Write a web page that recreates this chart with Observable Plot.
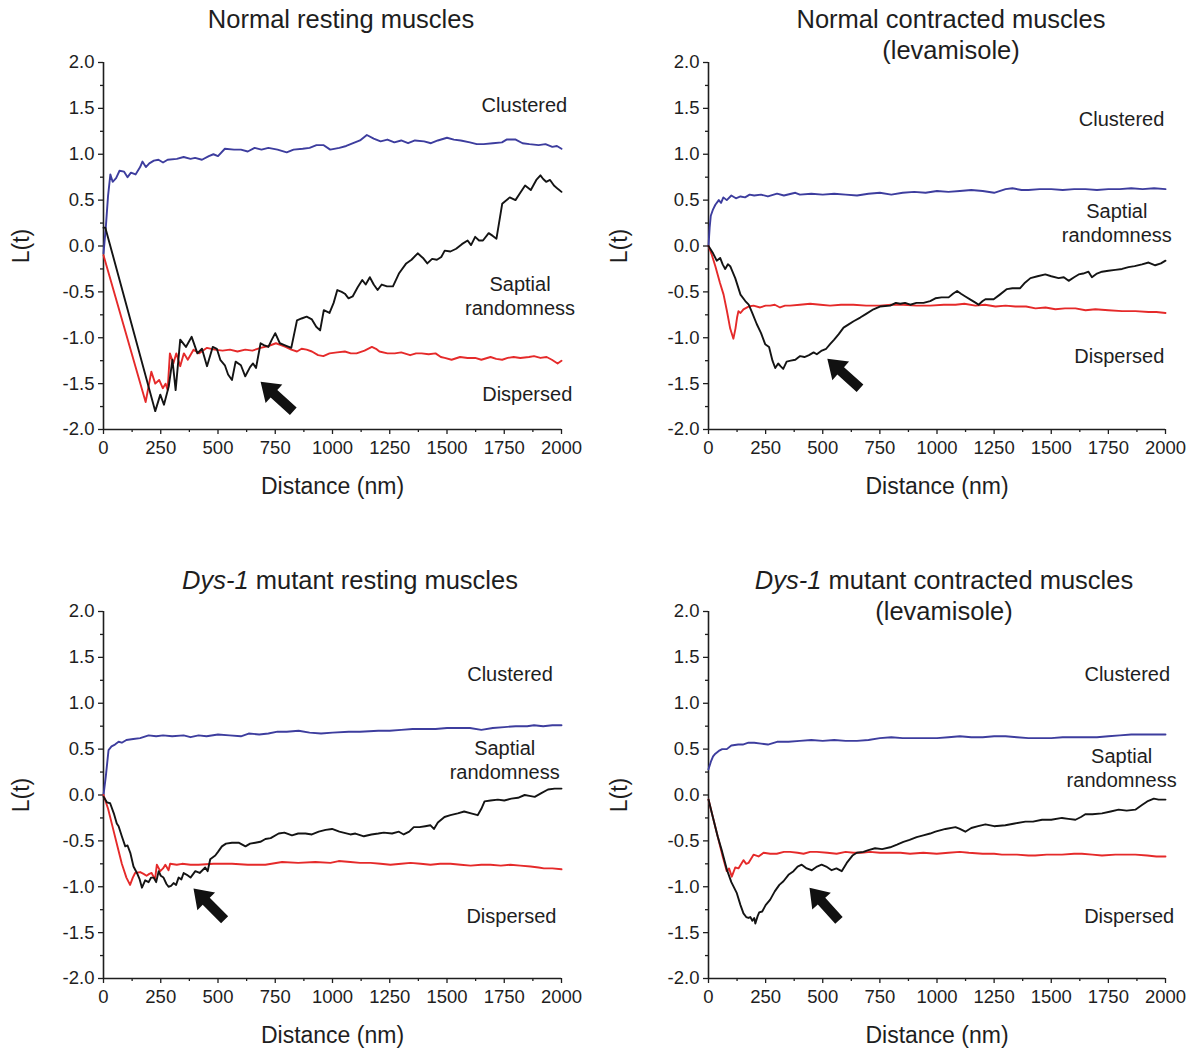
<!DOCTYPE html>
<html><head><meta charset="utf-8">
<script src="https://cdn.jsdelivr.net/npm/d3@7"></script>
<script src="https://cdn.jsdelivr.net/npm/@observablehq/plot@0.6"></script>
<style>
body{margin:0;background:#fff;}
#fig{position:relative;width:1196px;height:1050px;font-family:'Liberation Sans',Arial,sans-serif;color:#1e1e1e;overflow:hidden;}
.cell{position:absolute;}
.title{position:absolute;text-align:center;font-size:25.5px;line-height:31px;white-space:nowrap;transform:translateX(-50%);}
</style></head><body><div id="fig"></div>
<script>
// ---------------- DATA ----------------
const yMajorTicks = [-2, -1.5, -1, -0.5, 0, 0.5, 1, 1.5, 2];
const yMinorTicks = [-1.75, -1.25, -0.75, -0.25, 0.25, 0.75, 1.25, 1.75];
const xMajorTicks = [0, 250, 500, 750, 1000, 1250, 1500, 1750, 2000];
const xMinorTicks = [125, 375, 625, 875, 1125, 1375, 1625, 1875];

const titles = [
  "Normal resting muscles",
  "Normal contracted muscles<br>(levamisole)",
  "<i>Dys-1</i> mutant resting muscles",
  "<i>Dys-1</i> mutant contracted muscles<br>(levamisole)"
];

// Panel 1: Normal resting muscles  [distance nm, L(t)]
const normalRestingClustered = [[0,-0.08],[10,0.2],[20,0.55],[30,0.78],[40,0.7],[55,0.74],[70,0.82],[90,0.81],[105,0.75],[120,0.8],[140,0.78],[160,0.86],[170,0.92],[185,0.86],[200,0.9],[220,0.93],[240,0.94],[260,0.91],[280,0.94],[320,0.95],[350,0.97],[380,0.95],[400,0.96],[430,0.94],[460,0.98],[480,1.0],[500,0.98],[530,1.06],[570,1.05],[600,1.05],[630,1.03],[660,1.07],[690,1.05],[720,1.07],[760,1.05],[800,1.02],[830,1.05],[870,1.06],[900,1.07],[930,1.1],[960,1.1],[990,1.05],[1030,1.07],[1060,1.09],[1090,1.12],[1120,1.15],[1150,1.21],[1180,1.17],[1210,1.14],[1240,1.16],[1270,1.13],[1300,1.15],[1330,1.12],[1360,1.15],[1400,1.14],[1430,1.12],[1460,1.15],[1500,1.18],[1530,1.16],[1560,1.15],[1600,1.13],[1630,1.11],[1660,1.11],[1700,1.12],[1740,1.13],[1760,1.16],[1800,1.16],[1830,1.12],[1860,1.11],[1900,1.1],[1930,1.11],[1960,1.08],[1980,1.09],[2000,1.06]];
const normalRestingDispersed = [[0,-0.1],[184,-1.7],[209,-1.37],[226,-1.5],[243,-1.46],[259,-1.55],[271,-1.5],[280,-1.57],[290,-1.17],[305,-1.28],[318,-1.17],[335,-1.31],[351,-1.17],[368,-1.24],[393,-1.13],[418,-1.17],[452,-1.11],[485,-1.13],[520,-1.14],[552,-1.13],[585,-1.15],[619,-1.13],[650,-1.14],[686,-1.11],[720,-1.09],[753,-1.06],[775,-1.08],[795,-1.1],[820,-1.13],[845,-1.15],[865,-1.12],[887,-1.13],[910,-1.15],[937,-1.19],[960,-1.2],[987,-1.17],[1020,-1.16],[1054,-1.15],[1080,-1.17],[1105,-1.17],[1140,-1.14],[1172,-1.1],[1190,-1.12],[1205,-1.15],[1240,-1.17],[1272,-1.17],[1300,-1.16],[1339,-1.19],[1365,-1.17],[1389,-1.17],[1420,-1.18],[1450,-1.17],[1473,-1.21],[1490,-1.22],[1520,-1.24],[1557,-1.21],[1590,-1.22],[1623,-1.22],[1650,-1.24],[1690,-1.21],[1715,-1.23],[1741,-1.24],[1765,-1.22],[1791,-1.21],[1820,-1.22],[1858,-1.21],[1880,-1.2],[1908,-1.22],[1935,-1.21],[1958,-1.24],[1983,-1.28],[2000,-1.25]];
const normalRestingRandom = [[0,0.2],[8,0.2],[226,-1.8],[248,-1.62],[264,-1.73],[285,-1.53],[301,-1.24],[315,-1.57],[335,-1.02],[360,-1.1],[385,-0.99],[410,-1.17],[430,-1.12],[452,-1.31],[477,-1.1],[495,-1.12],[510,-1.24],[530,-1.3],[544,-1.4],[561,-1.46],[577,-1.26],[600,-1.3],[619,-1.42],[640,-1.32],[653,-1.28],[666,-1.33],[686,-1.06],[700,-1.08],[720,-1.1],[735,-1.02],[750,-0.95],[770,-1.06],[790,-1.08],[820,-1.11],[845,-0.81],[865,-0.79],[887,-0.77],[910,-0.8],[929,-0.88],[946,-0.92],[962,-0.7],[987,-0.73],[1005,-0.62],[1021,-0.48],[1040,-0.5],[1054,-0.52],[1070,-0.57],[1088,-0.55],[1110,-0.45],[1130,-0.37],[1145,-0.42],[1163,-0.34],[1180,-0.42],[1197,-0.48],[1215,-0.42],[1238,-0.44],[1264,-0.44],[1290,-0.3],[1322,-0.19],[1345,-0.15],[1372,-0.08],[1395,-0.13],[1414,-0.19],[1435,-0.14],[1456,-0.15],[1475,-0.12],[1490,-0.05],[1515,-0.06],[1540,-0.03],[1565,0.02],[1590,0.06],[1605,0.01],[1623,0.1],[1640,0.06],[1657,0.06],[1682,0.14],[1700,0.11],[1716,0.08],[1741,0.46],[1774,0.53],[1799,0.5],[1820,0.58],[1841,0.66],[1866,0.61],[1890,0.72],[1908,0.77],[1920,0.73],[1933,0.7],[1950,0.72],[1967,0.66],[1985,0.62],[2000,0.59]];

// Panel 2: Normal contracted muscles (levamisole)
const normalContractedClustered = [[0,0.0],[5,0.2],[10,0.33],[20,0.4],[30,0.45],[45,0.5],[55,0.47],[65,0.53],[80,0.5],[100,0.55],[120,0.52],[140,0.54],[160,0.53],[180,0.56],[200,0.55],[230,0.56],[260,0.54],[300,0.57],[330,0.55],[380,0.58],[400,0.56],[450,0.57],[500,0.56],[550,0.57],[600,0.56],[650,0.55],[700,0.57],[750,0.58],[800,0.56],[850,0.58],[900,0.59],[950,0.58],[1000,0.6],[1050,0.59],[1100,0.6],[1150,0.61],[1200,0.6],[1250,0.58],[1300,0.62],[1330,0.63],[1370,0.61],[1400,0.61],[1450,0.62],[1500,0.62],[1550,0.61],[1600,0.62],[1650,0.62],[1700,0.61],[1750,0.62],[1800,0.62],[1850,0.63],[1900,0.62],[1950,0.63],[2000,0.62]];
const normalContractedDispersed = [[0,0.0],[15,-0.1],[30,-0.22],[50,-0.4],[66,-0.53],[80,-0.7],[95,-0.9],[109,-1.01],[118,-0.9],[125,-0.78],[131,-0.71],[140,-0.73],[153,-0.69],[175,-0.66],[197,-0.65],[226,-0.67],[250,-0.65],[270,-0.65],[290,-0.64],[313,-0.67],[335,-0.65],[357,-0.65],[400,-0.64],[445,-0.63],[490,-0.64],[532,-0.65],[580,-0.64],[634,-0.64],[690,-0.65],[751,-0.65],[800,-0.64],[853,-0.64],[910,-0.65],[970,-0.65],[1030,-0.64],[1081,-0.64],[1120,-0.63],[1168,-0.65],[1210,-0.64],[1256,-0.66],[1300,-0.65],[1343,-0.66],[1390,-0.66],[1431,-0.68],[1475,-0.67],[1518,-0.69],[1560,-0.68],[1606,-0.68],[1650,-0.7],[1693,-0.69],[1750,-0.7],[1810,-0.71],[1868,-0.71],[1926,-0.72],[1960,-0.72],[2000,-0.73]];
const normalContractedRandom = [[0,0.0],[20,-0.08],[36,-0.16],[51,-0.13],[62,-0.2],[73,-0.25],[85,-0.2],[95,-0.22],[117,-0.35],[140,-0.53],[161,-0.6],[176,-0.64],[190,-0.72],[211,-0.85],[230,-0.95],[248,-1.07],[265,-1.1],[280,-1.25],[292,-1.33],[305,-1.28],[315,-1.31],[327,-1.34],[342,-1.26],[360,-1.25],[380,-1.24],[401,-1.2],[420,-1.21],[440,-1.19],[460,-1.16],[474,-1.18],[496,-1.14],[515,-1.12],[532,-1.07],[550,-1.02],[570,-0.96],[591,-0.89],[610,-0.86],[635,-0.82],[664,-0.78],[690,-0.74],[722,-0.69],[750,-0.66],[795,-0.65],[820,-0.62],[839,-0.63],[860,-0.62],[883,-0.64],[910,-0.62],[941,-0.62],[970,-0.6],[993,-0.57],[1020,-0.56],[1051,-0.56],[1070,-0.52],[1088,-0.49],[1105,-0.52],[1124,-0.55],[1150,-0.59],[1170,-0.62],[1182,-0.64],[1200,-0.6],[1212,-0.58],[1248,-0.58],[1275,-0.53],[1306,-0.47],[1330,-0.46],[1364,-0.46],[1385,-0.4],[1409,-0.35],[1440,-0.33],[1474,-0.31],[1500,-0.33],[1532,-0.35],[1555,-0.34],[1576,-0.38],[1600,-0.34],[1620,-0.31],[1640,-0.3],[1663,-0.28],[1678,-0.34],[1700,-0.3],[1722,-0.28],[1750,-0.27],[1780,-0.26],[1810,-0.25],[1838,-0.23],[1865,-0.22],[1897,-0.2],[1926,-0.18],[1955,-0.21],[1980,-0.19],[2000,-0.16]];

// Panel 3: Dys-1 mutant resting muscles
const mutantRestingClustered = [[0,0.0],[10,0.2],[22,0.49],[35,0.53],[50,0.55],[66,0.58],[80,0.57],[100,0.6],[130,0.61],[160,0.62],[197,0.65],[230,0.64],[260,0.65],[300,0.64],[350,0.65],[380,0.63],[415,0.65],[450,0.64],[500,0.66],[550,0.65],[600,0.64],[634,0.67],[680,0.66],[720,0.67],[760,0.69],[800,0.69],[852,0.7],[900,0.68],[950,0.67],[1000,0.68],[1071,0.69],[1120,0.69],[1200,0.7],[1250,0.7],[1300,0.71],[1350,0.72],[1400,0.72],[1450,0.72],[1500,0.73],[1550,0.73],[1600,0.73],[1650,0.71],[1700,0.73],[1750,0.74],[1800,0.75],[1850,0.75],[1880,0.76],[1920,0.75],[1960,0.76],[2000,0.76]];
const mutantRestingDispersed = [[0,0.0],[20,-0.15],[40,-0.35],[60,-0.55],[80,-0.75],[100,-0.9],[116,-0.98],[128,-0.9],[138,-0.85],[160,-0.84],[175,-0.86],[188,-0.88],[200,-0.86],[210,-0.85],[225,-0.92],[233,-0.76],[248,-0.83],[260,-0.8],[270,-0.76],[284,-0.82],[291,-0.75],[320,-0.76],[343,-0.75],[380,-0.76],[415,-0.76],[480,-0.75],[561,-0.75],[630,-0.76],[707,-0.76],[780,-0.73],[850,-0.74],[925,-0.73],[991,-0.74],[1027,-0.72],[1078,-0.73],[1120,-0.74],[1166,-0.74],[1210,-0.75],[1253,-0.76],[1300,-0.75],[1341,-0.74],[1385,-0.75],[1428,-0.76],[1470,-0.75],[1515,-0.75],[1560,-0.76],[1603,-0.77],[1650,-0.76],[1690,-0.76],[1735,-0.77],[1777,-0.76],[1820,-0.77],[1865,-0.78],[1900,-0.79],[1923,-0.8],[1960,-0.8],[2000,-0.81]];
const mutantRestingRandom = [[0,-0.02],[15,-0.08],[29,-0.09],[45,-0.2],[58,-0.31],[66,-0.34],[80,-0.45],[95,-0.56],[105,-0.55],[117,-0.63],[131,-0.78],[146,-0.85],[158,-0.92],[168,-1.01],[182,-0.93],[197,-0.95],[208,-0.9],[219,-0.9],[230,-0.95],[241,-0.83],[250,-0.88],[262,-0.9],[275,-0.97],[284,-1.0],[295,-0.99],[306,-0.96],[317,-0.98],[328,-0.9],[340,-0.92],[350,-0.85],[364,-0.87],[380,-0.9],[401,-0.83],[420,-0.85],[444,-0.79],[455,-0.83],[466,-0.7],[488,-0.66],[500,-0.62],[517,-0.56],[535,-0.53],[561,-0.52],[590,-0.52],[620,-0.56],[640,-0.53],[663,-0.52],[685,-0.51],[707,-0.48],[730,-0.47],[765,-0.42],[790,-0.41],[823,-0.44],[850,-0.42],[882,-0.42],[910,-0.43],[940,-0.4],[970,-0.38],[998,-0.37],[1030,-0.4],[1078,-0.43],[1100,-0.42],[1137,-0.45],[1170,-0.43],[1200,-0.42],[1224,-0.41],[1260,-0.42],[1290,-0.4],[1311,-0.43],[1335,-0.4],[1355,-0.35],[1380,-0.35],[1405,-0.34],[1428,-0.33],[1443,-0.37],[1460,-0.3],[1489,-0.24],[1515,-0.22],[1547,-0.2],[1575,-0.18],[1605,-0.2],[1634,-0.22],[1650,-0.15],[1664,-0.07],[1690,-0.06],[1722,-0.05],[1750,-0.06],[1781,-0.04],[1810,-0.03],[1839,0.0],[1860,-0.01],[1883,-0.02],[1912,0.02],[1941,0.06],[1970,0.07],[2000,0.07]];

// Panel 4: Dys-1 mutant contracted muscles (levamisole)
const mutantContractedClustered = [[0,0.28],[10,0.36],[20,0.42],[30,0.45],[45,0.48],[60,0.5],[80,0.5],[100,0.54],[130,0.55],[150,0.55],[175,0.57],[200,0.57],[230,0.56],[260,0.55],[300,0.58],[350,0.58],[400,0.59],[450,0.6],[500,0.59],[550,0.6],[600,0.59],[650,0.59],[700,0.6],[750,0.62],[800,0.63],[850,0.62],[900,0.62],[950,0.62],[1000,0.62],[1050,0.63],[1100,0.64],[1150,0.63],[1200,0.63],[1250,0.64],[1300,0.64],[1350,0.63],[1400,0.62],[1450,0.62],[1500,0.62],[1550,0.63],[1600,0.63],[1650,0.63],[1700,0.63],[1750,0.64],[1800,0.65],[1850,0.66],[1900,0.66],[1950,0.66],[2000,0.66]];
const mutantContractedDispersed = [[0,-0.05],[20,-0.25],[40,-0.45],[60,-0.65],[80,-0.83],[90,-0.8],[102,-0.89],[117,-0.79],[131,-0.8],[153,-0.71],[165,-0.75],[175,-0.74],[197,-0.65],[219,-0.67],[241,-0.63],[270,-0.64],[299,-0.64],[330,-0.62],[357,-0.62],[390,-0.63],[416,-0.64],[445,-0.62],[474,-0.62],[520,-0.63],[561,-0.64],[600,-0.62],[634,-0.63],[670,-0.63],[707,-0.62],[750,-0.63],[795,-0.63],[840,-0.63],[882,-0.64],[940,-0.63],[999,-0.64],[1050,-0.63],[1100,-0.62],[1139,-0.63],[1200,-0.64],[1250,-0.64],[1284,-0.65],[1350,-0.65],[1400,-0.66],[1430,-0.66],[1480,-0.65],[1547,-0.65],[1600,-0.64],[1634,-0.64],[1680,-0.65],[1722,-0.66],[1780,-0.65],[1830,-0.65],[1868,-0.65],[1920,-0.66],[1960,-0.67],[2000,-0.67]];
const mutantContractedRandom = [[0,-0.05],[20,-0.25],[40,-0.45],[60,-0.62],[80,-0.81],[100,-0.95],[124,-1.07],[140,-1.2],[153,-1.29],[165,-1.33],[175,-1.34],[183,-1.33],[192,-1.37],[200,-1.34],[205,-1.4],[215,-1.32],[222,-1.28],[235,-1.27],[250,-1.2],[270,-1.14],[290,-1.05],[310,-0.98],[328,-0.94],[350,-0.87],[372,-0.83],[390,-0.78],[408,-0.76],[430,-0.8],[452,-0.82],[475,-0.78],[495,-0.76],[515,-0.78],[539,-0.82],[560,-0.8],[583,-0.83],[605,-0.74],[630,-0.66],[649,-0.63],[678,-0.62],[700,-0.6],[729,-0.58],[760,-0.59],[795,-0.57],[825,-0.54],[853,-0.51],[880,-0.49],[911,-0.46],[940,-0.44],[970,-0.42],[993,-0.4],[1021,-0.38],[1037,-0.37],[1081,-0.35],[1100,-0.37],[1124,-0.4],[1150,-0.36],[1180,-0.34],[1212,-0.32],[1250,-0.34],[1299,-0.33],[1340,-0.31],[1387,-0.29],[1420,-0.29],[1460,-0.27],[1500,-0.27],[1547,-0.25],[1575,-0.26],[1606,-0.27],[1630,-0.24],[1649,-0.21],[1680,-0.21],[1722,-0.2],[1760,-0.18],[1795,-0.16],[1830,-0.17],[1868,-0.16],[1897,-0.11],[1920,-0.07],[1949,-0.04],[1970,-0.05],[2000,-0.05]];

// Annotation label anchors [x, y] (data units) and arrow tips [x, y, angle]
const clusteredLabels = [[2025, 1.53], [1995, 1.375], [1962, 1.31], [2020, 1.31]];
const randomnessLabels = [[1819, -0.535], [1787, 0.255], [1752, 0.385], [1808, 0.305]];
const dispersedLabels = [[2047, -1.62], [1995, -1.21], [1978, -1.32], [2038, -1.33]];
const arrowTips = [[686, -1.48, -48], [520, -1.23, -48], [393, -1.02, -45], [442, -1.01, -42]];

// ---------------- LAYOUT ----------------
const FONT = "'Liberation Sans', Arial, sans-serif";
const INK = "#1e1e1e";
const BLUE = "#3d3d9e", RED = "#e52a2a", BLACK = "#141414";
const cells = [
  {left: 0,   top: 0,   ml: 103, mr: 37, mt: 62, mb: 96, tx: 341, ty: 4},
  {left: 598, top: 0,   ml: 110, mr: 31, mt: 62, mb: 96, tx: 951, ty: 4},
  {left: 0,   top: 525, ml: 103, mr: 37, mt: 86, mb: 72, tx: 350, ty: 565},
  {left: 598, top: 525, ml: 110, mr: 31, mt: 86, mb: 72, tx: 944, ty: 565}
];
const series = [
  [normalRestingClustered, normalRestingDispersed, normalRestingRandom],
  [normalContractedClustered, normalContractedDispersed, normalContractedRandom],
  [mutantRestingClustered, mutantRestingDispersed, mutantRestingRandom],
  [mutantContractedClustered, mutantContractedDispersed, mutantContractedRandom]
];

const blockArrow = {
  draw(context, l) {
    const w = 5, hw = 12.5, hl = 18;
    context.moveTo(-w, 0);
    context.lineTo(-w, -(l - hl));
    context.lineTo(-hw, -(l - hl));
    context.lineTo(0, -l);
    context.lineTo(hw, -(l - hl));
    context.lineTo(w, -(l - hl));
    context.lineTo(w, 0);
    context.closePath();
  }
};

const fig = document.getElementById("fig");
const X = d => d[0], Y = d => d[1];

cells.forEach((c, i) => {
  const [clu, dis, ran] = series[i];
  const svg = Plot.plot({
    width: 598, height: 525,
    marginLeft: c.ml, marginRight: c.mr, marginTop: c.mt, marginBottom: c.mb,
    x: {domain: [0, 2000]},
    y: {domain: [-2, 2]},
    style: {fontFamily: FONT, fontSize: "18.5px", color: INK, background: "transparent", overflow: "visible"},
    marks: [
      Plot.axisY({ticks: yMinorTicks, tickSize: 3, tickFormat: () => "", label: null, strokeWidth: 1.3}),
      Plot.axisY({ticks: yMajorTicks, tickSize: 5, tickPadding: 4, tickFormat: d => d.toFixed(1), label: null, strokeWidth: 1.3, fontSize: 18.5}),
      Plot.axisX({ticks: xMinorTicks, tickSize: 3, tickFormat: () => "", label: null, strokeWidth: 1.3}),
      Plot.axisX({ticks: xMajorTicks, tickSize: 5, tickPadding: 6, tickFormat: d => String(d), label: null, strokeWidth: 1.3, fontSize: 18.5}),
      Plot.ruleX([0], {stroke: INK, strokeWidth: 1.6}),
      Plot.ruleY([-2], {stroke: INK, strokeWidth: 1.6}),
      Plot.line(clu, {x: X, y: Y, stroke: BLUE, strokeWidth: 1.9}),
      Plot.line(dis, {x: X, y: Y, stroke: RED, strokeWidth: 1.9}),
      Plot.line(ran, {x: X, y: Y, stroke: BLACK, strokeWidth: 1.9}),
      Plot.text([clusteredLabels[i]], {x: X, y: Y, text: () => "Clustered", textAnchor: "end", fontSize: 20, fill: INK}),
      Plot.text([randomnessLabels[i]], {x: X, y: Y, text: () => "Saptial\nrandomness", textAnchor: "middle", lineHeight: 1.2, fontSize: 20, fill: INK}),
      Plot.text([dispersedLabels[i]], {x: X, y: Y, text: () => "Dispersed", textAnchor: "end", fontSize: 20, fill: INK}),
      Plot.vector([arrowTips[i]], {x: X, y: Y, rotate: d => d[2], length: 44, anchor: "end", shape: blockArrow, fill: "#111", stroke: "none"}),
      Plot.text(["L(t)"], {frameAnchor: "left", dx: -(c.ml - 21), rotate: -90, textAnchor: "middle", lineAnchor: "middle", fontSize: 23, fill: INK}),
      Plot.text(["Distance (nm)"], {frameAnchor: "bottom", dy: 57, textAnchor: "middle", lineAnchor: "middle", fontSize: 23, fill: INK})
    ]
  });
  const cell = document.createElement("div");
  cell.className = "cell";
  cell.style.left = c.left + "px";
  cell.style.top = c.top + "px";
  cell.appendChild(svg);
  fig.appendChild(cell);
  const t = document.createElement("div");
  t.className = "title";
  t.style.left = c.tx + "px";
  t.style.top = c.ty + "px";
  t.innerHTML = titles[i];
  fig.appendChild(t);
});
</script></body></html>
